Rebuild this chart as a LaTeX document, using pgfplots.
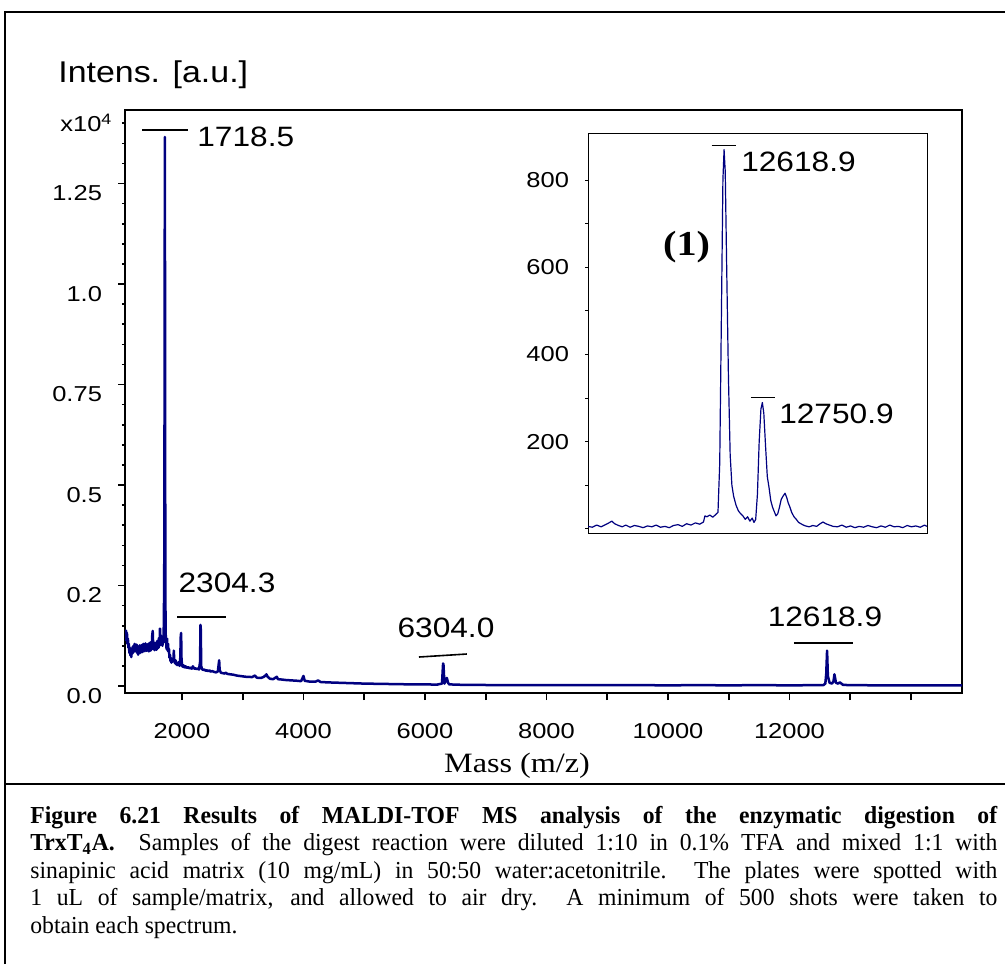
\documentclass[border=0pt]{standalone}
\usepackage{fontspec}
\setmainfont{Liberation Serif}[FakeStretch=0.97]
\newfontfamily\tickfont[FakeStretch=1.18]{Liberation Sans}
\newfontfamily\annfont[FakeStretch=1.13]{Liberation Sans}
\newfontfamily\wideserif[FakeStretch=1.15]{Liberation Serif}
\usepackage{pgfplots}
\pgfplotsset{compat=1.18}
\definecolor{specblue}{RGB}{0,0,128}

\begin{document}
\begin{tikzpicture}
\path[use as bounding box] (0,0) rectangle (502.5pt,482pt);
% frame round figure and caption
\draw[line width=1pt] (2.5pt,0) -- (2.5pt,476pt) -- (502.5pt,476pt);
\draw[line width=1pt] (2.5pt,90pt) -- (502.5pt,90pt);

\begin{axis}[at={(62.5pt,135.5pt)}, anchor=south west, scale only axis,
  width=418.5pt, height=291.5pt,
  xmin=1062, xmax=14840, ymin=-174, ymax=14330,
  scaled ticks=false,
  axis line style={line width=1pt},
  xtick pos=bottom, ytick pos=left, tick align=outside,
  xtick={2000,3000,...,14000}, xticklabels={2000,,4000,,6000,,8000,,10000,,12000,,},
  ytick={0,2500,5000,7500,10000,12500}, yticklabels={0.0,0.2,0.5,0.75,1.0,1.25},
  minor ytick={500,1000,...,14000},
  major tick length=3.5pt, minor tick length=1.6pt,
  tick style={line width=0.8pt, black},
  /pgf/number format/assume math mode=true,
  ticklabel style={font=\tickfont\fontsize{10.8}{12}\selectfont},
  yticklabel style={xshift=-4.5pt, yshift=-5pt},
  xticklabel style={yshift=-8pt},
]
\addplot[specblue, line width=1.25pt, line join=round] coordinates {
(1062,1300)(1070,1150)(1078,1380)(1086,1200)(1094,1320)(1102,1050)(1110,1180)(1118,950)
(1126,1050)(1134,820)(1142,950)(1150,760)(1158,900)(1166,720)(1174,880)(1182,800)
(1190,980)(1198,830)(1206,1010)(1214,860)(1222,1050)(1230,880)(1238,1000)(1246,850)
(1254,1030)(1262,820)(1270,960)(1278,780)(1286,990)(1294,850)(1302,1010)(1310,820)
(1318,980)(1326,860)(1334,1020)(1342,840)(1350,1000)(1358,880)(1366,1050)(1374,860)
(1382,990)(1390,900)(1398,1060)(1406,870)(1414,1020)(1422,880)(1430,1040)(1438,890)
(1446,1000)(1454,860)(1462,1070)(1470,900)(1478,1040)(1486,880)(1494,1100)(1502,920)
(1510,1250)(1518,1370)(1526,1000)(1534,910)(1542,1080)(1550,890)(1558,1060)(1566,920)
(1574,1080)(1582,900)(1590,1120)(1598,930)(1606,1100)(1614,950)(1622,1200)(1630,1000)
(1638,1430)(1646,1150)(1654,1250)(1662,1050)(1670,1200)(1678,1000)(1686,1150)(1694,1080)
(1702,1600)(1710,3500)(1714,9000)(1718.5,13660)(1722,8000)(1726,2500)(1731,1300)(1738,1150)
(1746,920)(1754,1180)(1762,880)(1770,1050)(1778,850)(1786,920)(1794,700)(1802,780)
(1810,620)(1818,700)(1826,580)(1834,650)(1842,600)(1850,680)(1858,620)(1866,880)
(1872,640)(1880,600)(1888,560)(1896,640)(1904,540)(1912,580)(1920,520)(1930,560)
(1940,520)(1950,600)(1960,500)(1972,700)(1980,1250)(1986,1320)(1992,700)(2000,520)
(2010,480)(2020,520)(2030,470)(2040,500)(2050,460)(2060,490)(2080,450)(2100,470)
(2120,440)(2140,460)(2160,430)(2180,490)(2200,430)(2220,440)(2240,420)(2260,440)
(2280,410)(2298,600)(2304.3,1520)(2310,1400)(2316,500)(2330,420)(2350,400)(2370,410)
(2390,380)(2410,390)(2430,370)(2450,390)(2470,360)(2500,370)(2530,350)(2560,340)
(2590,360)(2605,550)(2612,640)(2620,400)(2640,330)(2670,320)(2700,310)(2720,330)
(2750,300)(2800,290)(2850,280)(2900,260)(2950,250)(3000,240)(3050,230)(3100,230)
(3150,220)(3200,260)(3230,210)(3260,200)(3300,200)(3350,230)(3390,290)(3410,230)
(3450,180)(3500,170)(3560,230)(3580,170)(3650,160)(3700,150)(3800,140)(3900,130)
(3960,120)(4000,250)(4020,130)(4100,110)(4200,110)(4240,140)(4280,100)(4400,90)
(4600,80)(4800,70)(5000,60)(5200,55)(5400,50)(5600,45)(5800,40)(6000,40)
(6200,35)(6280,60)(6298,560)(6304,540)(6320,60)(6360,200)(6380,80)(6400,40)
(6600,30)(6800,30)(7000,25)(7500,25)(8000,20)(8500,22)(9000,20)(9500,20)
(10000,18)(10500,20)(11000,18)(11500,20)(12000,18)(12500,20)(12560,25)(12590,60)
(12605,300)(12618.9,880)(12632,250)(12660,80)(12700,60)(12725,120)(12740,290)(12765,80)
(12800,60)(12830,90)(12880,30)(13000,20)(13500,18)(14000,18)(14500,18)(14840,18)
};
\draw[line width=0.8pt] (axis cs:1342,13833) -- (axis cs:2099,13833);
\node[anchor=west, inner sep=0, font=\annfont\fontsize{14}{16}\selectfont] at (axis cs:2247,13660) {1718.5};
\draw[line width=0.8pt] (axis cs:1918,1717) -- (axis cs:2724,1717);
\node[inner sep=0, font=\annfont\fontsize{14}{16}\selectfont] at (axis cs:2741,2563) {2304.3};
\draw[line width=0.8pt] (axis cs:5901,721) -- (axis cs:6690,796);
\node[inner sep=0, font=\annfont\fontsize{14}{16}\selectfont] at (axis cs:6346,1443) {6304.0};
\draw[line width=0.8pt] (axis cs:12073,1070) -- (axis cs:13044,1070);
\node[inner sep=0, font=\annfont\fontsize{14}{16}\selectfont] at (axis cs:12584,1717) {12618.9};
\end{axis}

\begin{axis}[at={(294pt,215pt)}, anchor=south west, scale only axis,
  width=169.5pt, height=200.5pt,
  xmin=12150, xmax=13318.5, ymin=-11.5, ymax=908,
  scaled ticks=false,
  axis background/.style={fill=white},
  axis line style={line width=0.5pt},
  xtick=\empty, ytick={0,100,...,800}, yticklabels={,,200,,400,,600,,800},
  ytick pos=left, tick align=outside, major tick length=1.5pt,
  tick style={line width=0.5pt, black},
  /pgf/number format/assume math mode=true,
  ticklabel style={font=\tickfont\fontsize{10.8}{12}\selectfont},
  yticklabel style={xshift=-4.5pt},
]
\addplot[specblue, line width=0.6pt, line join=round] coordinates {
(12150,6)(12165,4)(12180,9)(12195,5)(12210,10)(12222,14)(12232,18)(12242,12)
(12255,8)(12268,5)(12280,9)(12295,4)(12310,8)(12325,6)(12340,3)(12355,7)
(12370,5)(12385,9)(12400,4)(12415,6)(12430,3)(12445,8)(12460,10)(12475,6)
(12490,12)(12505,9)(12520,14)(12535,11)(12548,16)(12553,30)(12560,28)(12570,32)
(12580,27)(12590,33)(12598,38)(12604,150)(12610,500)(12615,800)(12619,870)(12623,820)
(12628,600)(12634,350)(12640,170)(12646,100)(12652,75)(12660,55)(12668,42)(12676,35)
(12684,30)(12692,22)(12700,28)(12708,18)(12716,25)(12722,15)(12728,22)(12734,80)
(12740,200)(12746,275)(12751,290)(12756,265)(12762,190)(12768,120)(12774,95)(12780,65)
(12786,50)(12792,40)(12798,30)(12804,35)(12810,50)(12816,68)(12822,75)(12829,82)
(12835,72)(12840,60)(12846,50)(12852,38)(12860,28)(12868,22)(12876,15)(12884,12)
(12892,9)(12900,7)(12912,5)(12925,8)(12938,6)(12950,12)(12960,16)(12970,12)
(12982,9)(12995,6)(13010,5)(13025,9)(13040,4)(13055,7)(13070,3)(13085,6)
(13100,4)(13115,8)(13130,5)(13145,3)(13160,7)(13175,4)(13190,9)(13205,5)
(13220,6)(13235,3)(13250,8)(13265,5)(13280,7)(13295,4)(13310,9)(13318,6)
};
\draw[line width=0.5pt] (axis cs:12576,879) -- (axis cs:12660,879);
\node[anchor=west, inner sep=0, font=\annfont\fontsize{14}{16}\selectfont] at (axis cs:12677,842) {12618.9};
\draw[line width=0.5pt] (axis cs:12711,302) -- (axis cs:12795,302);
\node[anchor=west, inner sep=0, font=\annfont\fontsize{14}{16}\selectfont] at (axis cs:12808,265) {12750.9};
\node[inner sep=0, font=\wideserif\bfseries\fontsize{17.5}{20}\selectfont] at (axis cs:12490,647) {(1)};
\end{axis}

\node[anchor=base west, inner sep=0, font=\annfont\fontsize{15}{18}\selectfont] at (29pt,440.5pt) {Intens. [a.u.]};
\node[anchor=base west, inner sep=0, font=\tickfont\fontsize{10.8}{12}\selectfont] at (30pt,416pt) {x10\textsuperscript{4}};
\node[anchor=base, inner sep=0, font=\wideserif\fontsize{14}{16}\selectfont] at (258.5pt,96pt) {Mass (m/z)};

\node[anchor=base west, inner sep=0] at (15pt,70.5pt) {\parbox[t]{483.5pt}{\fontsize{12.2}{13.75}\selectfont
\textbf{Figure 6.21 Results of MALDI-TOF MS analysis of the enzymatic digestion of}\linebreak
\textbf{TrxT\textsubscript{4}A.}\ \ Samples of the digest reaction were diluted 1:10 in 0.1\% TFA and mixed 1:1 with\linebreak
sinapinic acid matrix (10 mg/mL) in 50:50 water:acetonitrile.\ \ The plates were spotted with\linebreak
1 uL of sample/matrix, and allowed to air dry.\ \ A minimum of 500 shots were taken to\linebreak
obtain each spectrum.}};
\end{tikzpicture}
\end{document}
